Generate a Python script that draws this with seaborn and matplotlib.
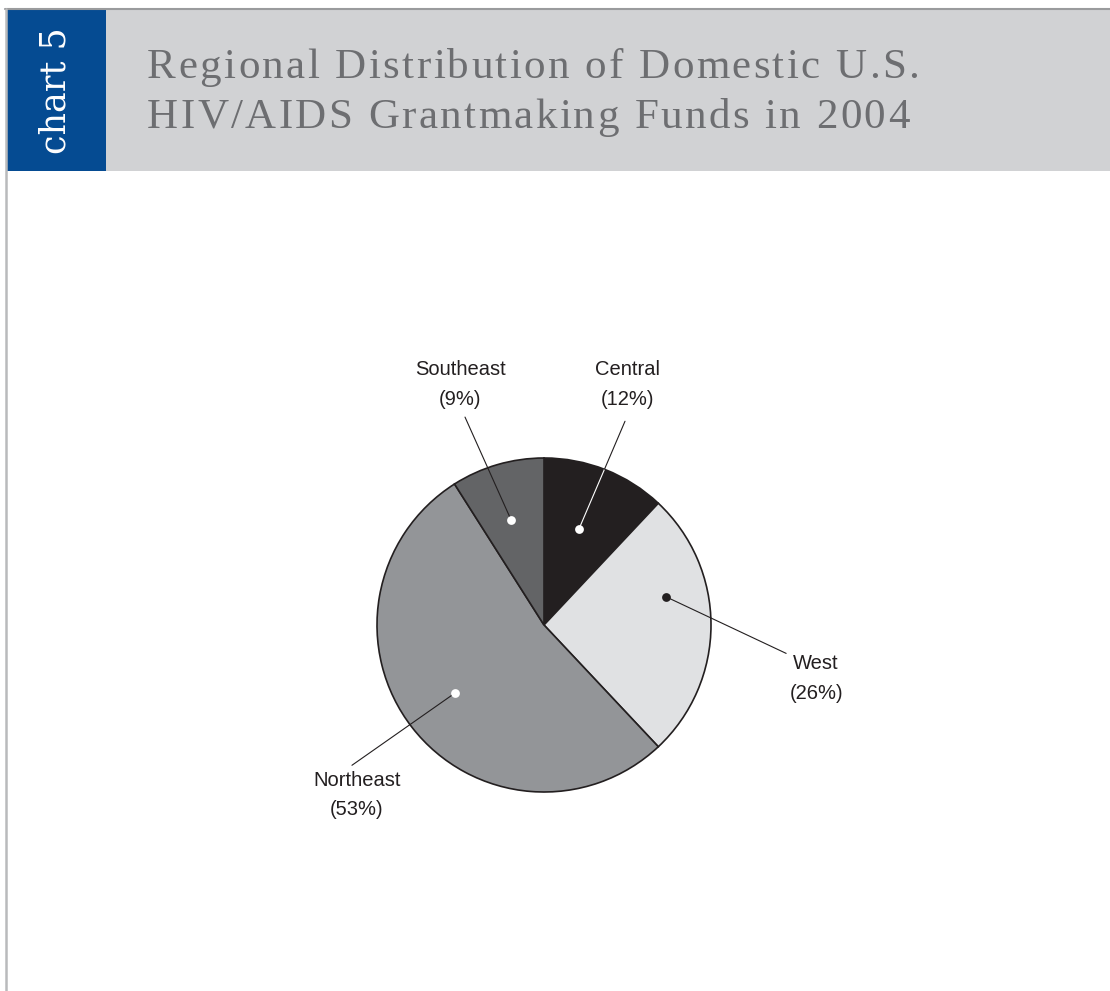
import numpy as np
import matplotlib
matplotlib.use("Agg")
import matplotlib.pyplot as plt
import seaborn as sns
from matplotlib.patches import Rectangle

# Data
regions = ["Central", "West", "Northeast", "Southeast"]
shares = [12, 26, 53, 9]
slice_colors = ["#231f20", "#e0e1e3", "#939598", "#636466"]

title_lines = ["Regional Distribution of Domestic U.S.",
               "HIV/AIDS Grantmaking Funds in 2004"]
chart_tag = "chart 5"

# Label layout: dot (angle from 12 o'clock clockwise, radius fraction), text centre and line end in pie units
label_style = {
    "Central":   dict(ang=20.0, r=0.61, text=(0.50, 1.44), tail=(0.485, 1.22), dot="white", inner="white"),
    "West":      dict(ang=77.0, r=0.75, text=(1.63, -0.32), tail=(1.45, -0.17), dot="#231f20", inner="#231f20"),
    "Northeast": dict(ang=232.6, r=0.67, text=(-1.12, -1.02), tail=(-1.15, -0.84), dot="white", inner="#231f20"),
    "Southeast": dict(ang=342.6, r=0.66, text=(-0.50, 1.44), tail=(-0.473, 1.245), dot="white", inner="#231f20"),
}

sns.set_theme(style="white")
plt.rcParams["font.family"] = ["DejaVu Sans"]

W, H = 1110, 991
fig = plt.figure(figsize=(W / 100, H / 100), dpi=100)
renderer = fig.canvas.get_renderer()

# background / frame axis in pixel coordinates
bg = fig.add_axes([0, 0, 1, 1])
bg.set_xlim(0, W)
bg.set_ylim(H, 0)
bg.axis("off")
bg.add_patch(Rectangle((106, 9), W - 106, 162, facecolor="#d1d2d4", edgecolor="none"))
bg.add_patch(Rectangle((6, 9), 100, 162, facecolor="#054b92", edgecolor="none"))
bg.plot([5, W], [9, 9], color="#9a9b9d", lw=1.5)
bg.plot([6, 6], [9, H], color="#b9babc", lw=1.8)
bg.text(56, 91, chart_tag, rotation=90, color="white", fontsize=25,
        family="DejaVu Serif", ha="center", va="center")


def text_width(s, **kw):
    # width in pixels of s (trailing spaces kept by measuring against a bar)
    t = bg.text(0, 0, s + "|", **kw)
    b = bg.text(0, 0, "|", **kw)
    w = t.get_window_extent(renderer).width - b.get_window_extent(renderer).width
    t.remove()
    b.remove()
    return w


# title with letter spacing
title_kw = dict(color="#6d6e71", fontsize=31, family="Liberation Serif")
tracking = 2.4
for i, line in enumerate(title_lines):
    for j, ch in enumerate(line):
        x = 147 + text_width(line[:j], **title_kw) + j * tracking
        bg.text(x, 78 + i * 50, ch, ha="left", va="baseline", **title_kw)

# pie axis: 1 data unit = 167 px, center at (544, 625)
cx, cy, R = 544, 625, 167
ax = fig.add_axes([0, 0, 1, 1])
ax.patch.set_alpha(0)
wedges, _ = ax.pie(shares, colors=slice_colors, startangle=90, counterclock=False,
                   radius=1.0, wedgeprops=dict(edgecolor="#231f20", linewidth=1.2))
ax.set_aspect("auto")
ax.set_xlim(-cx / R, (W - cx) / R)
ax.set_ylim((cy - H) / R, cy / R)
ax.axis("off")

label_font = ["Liberation Sans", "DejaVu Sans"]
for name, pct in zip(regions, shares):
    st = label_style[name]
    a = np.deg2rad(st["ang"])
    dx, dy = st["r"] * np.sin(a), st["r"] * np.cos(a)
    tx, ty = st["tail"]
    # point where the leader crosses the rim
    p0, p1 = np.array([dx, dy]), np.array([tx, ty])
    d = p1 - p0
    qa, qb, qc = d @ d, 2 * p0 @ d, p0 @ p0 - 1
    t = (-qb + np.sqrt(qb * qb - 4 * qa * qc)) / (2 * qa)
    rim = p0 + t * d
    ax.plot([dx, rim[0]], [dy, rim[1]], color=st["inner"], lw=0.8)
    ax.plot([rim[0], tx], [rim[1], ty], color="#231f20", lw=0.8)
    ax.scatter([dx], [dy], s=40, color=st["dot"], zorder=5, linewidths=0)
    ax.text(st["text"][0], st["text"][1], f"{name}\n({pct}%)", ha="center", va="center",
            fontsize=14.5, family=label_font, color="#231f20", linespacing=1.68)

fig.savefig("out.png", dpi=100)
